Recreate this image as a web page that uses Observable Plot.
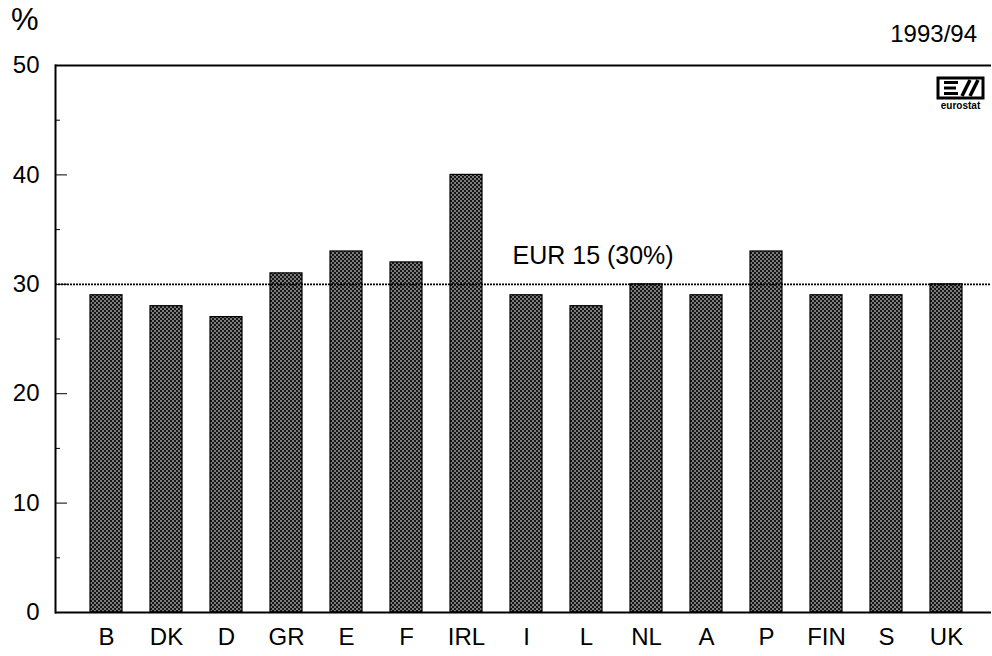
<!DOCTYPE html>
<html>
<head>
<meta charset="utf-8">
<script src="https://cdn.jsdelivr.net/npm/d3@7"></script>
<script src="https://cdn.jsdelivr.net/npm/@observablehq/plot@0.6"></script>
<style>
  body { margin: 0; background: #fff; font-family: "Liberation Sans", Arial, sans-serif; }
  #wrap { position: relative; width: 992px; height: 656px; }
  #pct { position: absolute; left: 11px; top: 4px; font-size: 31px; line-height: 1; }
  #year { position: absolute; right: 15px; top: 22px; font-size: 24px; line-height: 1; }
  #logo { position: absolute; left: 935px; top: 75px; }
</style>
</head>
<body>
<div id="wrap">
  <div id="chart"></div>
  <div id="pct">%</div>
  <div id="year">1993/94</div>
  <svg id="logo" width="52" height="40" viewBox="0 0 52 40">
    <rect x="3" y="3" width="45" height="20" fill="none" stroke="#000" stroke-width="3"/>
    <path d="M9 7.5 H23 M9 13 H21 M9 18.5 H23" stroke="#000" stroke-width="3"/>
    <path d="M27 21 L35 5 M35 21 L43 5" stroke="#000" stroke-width="3.5"/>
    <text x="25.5" y="34" text-anchor="middle" font-size="10" font-weight="bold" font-family="Liberation Sans, Arial">eurostat</text>
  </svg>
</div>
<script>
const countries = ["B","DK","D","GR","E","F","IRL","I","L","NL","A","P","FIN","S","UK"];
const values = [29,28,27,31,33,32,40,29,28,30,29,33,29,29,30];
const eurValue = 30;
const eurLabel = "EUR 15 (30%)";
const majorTicks = [0,10,20,30,40,50];
const minorTicks = [5,15,25,35,45];

const data = countries.map((c, i) => ({country: c, value: values[i]}));

const plot = Plot.plot({
  width: 992,
  height: 656,
  marginLeft: 55,
  marginRight: 1,
  marginTop: 65,
  marginBottom: 44,
  style: {fontFamily: "Liberation Sans, Arial, sans-serif", fontSize: "24px", color: "#000", background: "#fff"},
  x: {domain: countries, paddingInner: 0.467, paddingOuter: 0.533, align: 0.55, label: null},
  y: {domain: [0, 50], label: null},
  marks: [
    Plot.barY(data, {x: "country", y: "value", fill: "url(#dots)", stroke: "#000", strokeWidth: 1.2}),
    Plot.ruleY([eurValue], {stroke: "#000", strokeWidth: 1.8, strokeDasharray: "2,1"}),
    Plot.text([eurLabel], {x: () => "L", y: () => eurValue, text: d => d, textAnchor: "start", dx: -74, dy: -28, fontSize: 25, fill: "#000"}),
    Plot.ruleY([0, 50], {stroke: "#000", strokeWidth: 2}),
    Plot.frame({anchor: "left", stroke: "#000", strokeWidth: 2}),
    Plot.axisY({ticks: majorTicks, tickSize: -12, tickPadding: 28, fontSize: 24, label: null}),
    Plot.axisY({ticks: minorTicks, tickSize: -5, text: null, label: null}),
    Plot.axisX({tickSize: 0, tickPadding: 15, fontSize: 24, label: null})
  ]
});

const svgns = "http://www.w3.org/2000/svg";
const defs = document.createElementNS(svgns, "defs");
defs.innerHTML = `<pattern id="dots" width="4" height="4" patternUnits="userSpaceOnUse">
  <rect width="4" height="4" fill="#161616"/>
  <circle cx="1" cy="1" r="0.8" fill="#fff"/>
  <circle cx="3" cy="3" r="0.8" fill="#fff"/>
</pattern>`;
plot.insertBefore(defs, plot.firstChild);
document.getElementById("chart").appendChild(plot);
</script>
</body>
</html>
